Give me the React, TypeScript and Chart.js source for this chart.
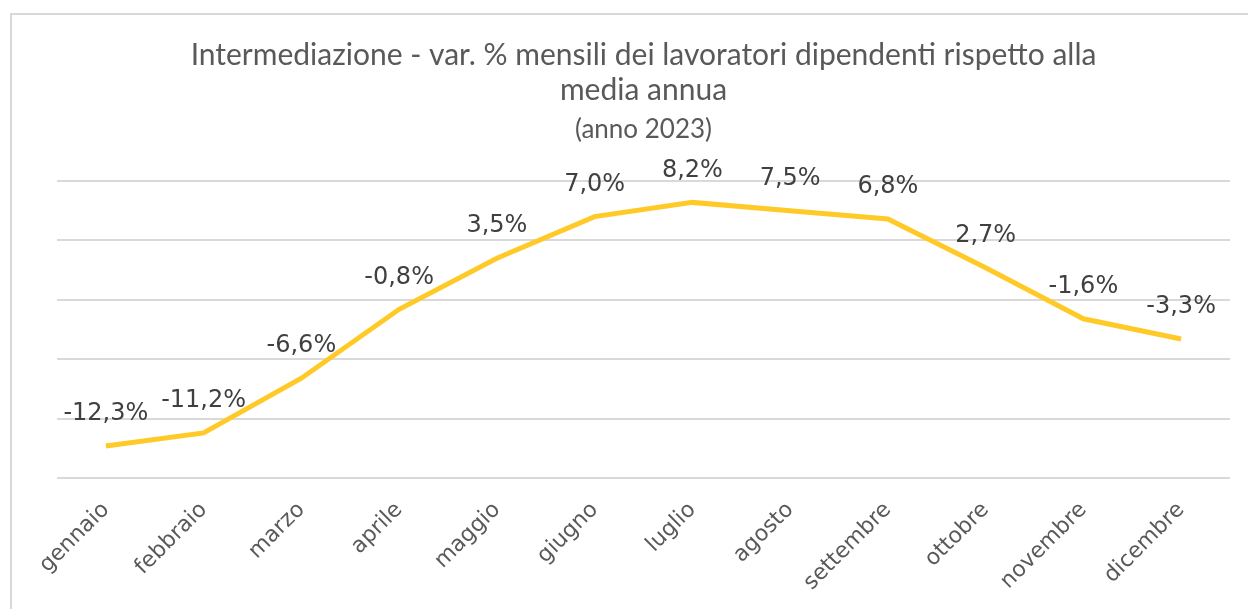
import React, { useEffect, useRef } from "react";
import { Chart, registerables } from "chart.js";

Chart.register(...registerables);

const MONTHS = [
  "gennaio", "febbraio", "marzo", "aprile", "maggio", "giugno",
  "luglio", "agosto", "settembre", "ottobre", "novembre", "dicembre",
];
const VALUES = [-12.3, -11.2, -6.6, -0.8, 3.5, 7.0, 8.2, 7.5, 6.8, 2.7, -1.6, -3.3];
const TITLE_LINES = [
  "Intermediazione - var. % mensili dei lavoratori dipendenti rispetto alla",
  "media annua",
];
const SUBTITLE = "(anno 2023)";
const Y_MIN = -15;
const Y_MAX = 10;
const Y_STEP = 5;

const fmt = (v: number) => v.toFixed(1).replace(".", ",") + "%";

const dataLabels = {
  id: "dataLabels",
  afterDatasetsDraw(chart: any) {
    const ctx = chart.ctx;
    const meta = chart.getDatasetMeta(0);
    ctx.save();
    ctx.font = "24px 'DejaVu Sans'";
    ctx.fillStyle = "#404040";
    ctx.textAlign = "center";
    ctx.textBaseline = "middle";
    meta.data.forEach((pt: any, i: number) => {
      ctx.fillText(fmt(VALUES[i]), pt.x, pt.y - 32);
    });
    ctx.restore();
  },
};

export default function App() {
  const ref = useRef<HTMLCanvasElement | null>(null);
  useEffect(() => {
    if (!ref.current) return;
    const chart = new Chart(ref.current, {
      type: "line",
      data: {
        labels: MONTHS,
        datasets: [
          {
            data: VALUES,
            borderColor: "#FFCA28",
            borderWidth: 5,
            pointRadius: 0,
            tension: 0,
            fill: false,
          },
        ],
      },
      options: {
        responsive: false,
        animation: false,
        layout: { padding: { left: 57, right: 18, top: 0, bottom: 0 } },
        plugins: {
          legend: { display: false },
          tooltip: { enabled: false },
          title: {
            display: true,
            text: TITLE_LINES,
            color: "#595959",
            font: { family: "Lato", size: 30, weight: "normal", lineHeight: 1.17 },
            padding: { top: 38, bottom: 4 },
          },
          subtitle: {
            display: true,
            text: SUBTITLE,
            color: "#595959",
            font: { family: "Lato", size: 26, weight: "normal", lineHeight: 1.2 },
            padding: { top: 2.2, bottom: 35.4 },
          },
        },
        scales: {
          x: {
            offset: true,
            grid: { display: false },
            border: { display: false },
            ticks: {
              color: "#595959",
              font: { family: "DejaVu Sans", size: 22 },
              minRotation: 45,
              maxRotation: 45,
              autoSkip: false,
              padding: 11,
            },
            afterFit: (s: any) => {
              s.height = 131;
            },
          },
          y: {
            min: Y_MIN,
            max: Y_MAX,
            ticks: { display: false, stepSize: Y_STEP },
            grid: { color: "#d9d9d9", lineWidth: 2, drawTicks: false },
            border: { display: false },
            afterFit: (s: any) => {
              s.width = 0;
            },
          },
        },
      },
      plugins: [dataLabels],
    });
    return () => chart.destroy();
  }, []);

  return (
    <div
      style={{
        position: "fixed",
        left: 0,
        top: 0,
        width: 1248,
        height: 609,
        overflow: "hidden",
        background: "#ffffff",
      }}
    >
      <div
        style={{
          position: "absolute",
          left: 10,
          top: 13,
          width: 1300,
          height: 700,
          border: "2px solid #d9d9d9",
          boxSizing: "border-box",
        }}
      />
      <canvas
        ref={ref}
        width={1248}
        height={609}
        style={{ position: "absolute", left: 0, top: 0, width: 1248, height: 609 }}
      />
    </div>
  );
}
